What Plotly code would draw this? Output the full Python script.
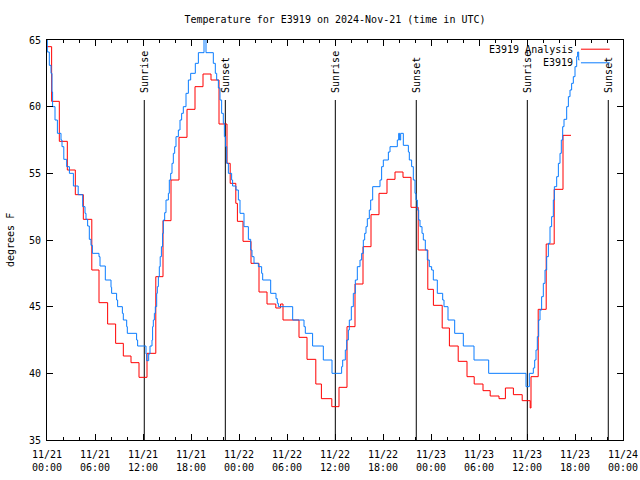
import pandas as pd
import plotly.graph_objects as go

BASE = pd.Timestamp("2024-11-21 00:00")

# E3919 Analysis (red) : step start hour (from 11/21 00:00 UTC), temperature F
analysis_hours = [0.0, 0.58, 1.54, 2.54, 3.54, 4.54, 5.6, 6.5, 7.58, 8.58, 9.54, 10.5, 11.5, 12.5,
                  13.6, 14.5, 15.5, 16.5, 17.5, 18.5, 19.5, 20.5, 21.5, 22.5, 22.9, 23.6, 23.8,
                  24.5, 25.5, 26.5, 27.5, 28.6, 29.2, 29.5, 31.5, 32.5, 33.6, 34.3, 35.6, 36.5,
                  37.5, 38.5, 39.5, 40.5, 41.5, 42.5, 43.5, 44.5, 45.5, 46.4, 47.6, 48.3, 49.4,
                  50.3, 51.4, 52.5, 53.4, 54.5, 55.4, 56.5, 57.3, 58.3, 59.4, 60.4, 60.5, 61.4,
                  62.4, 63.4, 64.5, 65.5]
analysis_temps = [64.5, 60.4, 57.4, 55.25, 53.4, 51.55, 47.75, 45.3, 43.7, 42.25, 41.3, 40.8, 39.7, 41.5,
                  47.25, 51.45, 54.5, 57.7, 59.8, 61.5, 62.45, 62.0, 58.7, 55.75, 54.25, 52.75, 51.4,
                  49.9, 48.25, 46.1, 45.2, 44.9, 45.2, 44.0, 42.7, 41.05, 39.2, 38.1, 37.5, 38.95,
                  43.5, 46.7, 49.5, 51.9, 53.5, 54.55, 55.1, 54.7, 52.45, 49.25, 46.3, 45.1, 43.4,
                  42.05, 40.9, 39.75, 39.2, 38.7, 38.3, 38.1, 38.9, 38.4, 37.95, 37.4, 39.75, 44.8,
                  49.7, 53.8, 57.85, 57.85]

# E3919 observations (blue)
obs_hours = [0.0, 0.04, 0.29, 0.5, 0.625, 0.7, 1.0, 1.3, 1.75, 1.875, 2.1, 2.46, 2.8, 3.3, 3.9,
             4.46, 4.75, 4.875, 5.08, 5.29, 5.5, 5.67, 6.5, 6.625, 7.29, 8.0, 8.08, 8.7, 8.83,
             9.42, 9.54, 9.96, 10.04, 11.2, 11.33, 12.375, 12.46, 12.71, 12.875, 13.125, 13.2,
             13.29, 13.42, 13.54, 13.71, 13.79, 13.92, 14.04, 14.15, 14.3, 14.45, 14.54, 14.71,
             14.875, 15.17, 15.29, 15.46, 15.625, 15.79, 15.96, 16.125, 16.42, 16.625, 16.83,
             17.04, 17.375, 17.67, 17.96, 18.54, 18.92, 19.625, 19.875, 20.79, 21.04, 21.21,
             21.42, 21.625, 21.83, 22.04, 22.17, 22.33, 22.46, 22.67, 23.08, 23.2, 23.625,
             23.92, 24.125, 24.625, 25.17, 25.46, 25.625, 25.875, 26.42, 26.83, 26.96, 27.96,
             28.625, 28.79, 28.92, 30.71, 32.125, 32.29, 33.2, 34.54, 35.625, 36.83, 36.96,
             37.29, 37.46, 37.67, 37.79, 38.04, 38.29, 38.54, 38.79, 39.125, 39.33, 39.54,
             39.71, 39.875, 40.04, 40.29, 40.46, 40.71, 41.625, 41.83, 42.04, 42.67, 42.875,
             43.79, 43.96, 44.08, 44.21, 44.54, 45.17, 45.29, 45.58, 45.79, 46.0, 46.125,
             46.29, 46.46, 46.625, 46.875, 47.04, 47.29, 47.54, 47.79, 48.08, 48.29, 48.79,
             49.46, 49.625, 50.125, 50.96, 52.04, 53.375, 55.21, 59.875, 60.29, 60.79, 60.96,
             61.125, 61.29, 61.46, 61.625, 61.83, 62.04, 62.25, 62.46, 62.67, 62.875, 63.08,
             63.29, 63.42, 63.71, 63.92, 64.125, 64.29, 64.46, 64.625, 64.96, 65.17, 65.375,
             65.58, 65.79, 66.0, 66.21, 66.33, 66.46, 66.55]
obs_temps = [65.2, 64.1, 63.1, 62.5, 61.1, 60.0, 59.0, 58.0, 57.5, 57.0, 56.05, 55.5, 55.0, 54.05, 53.4,
             52.5, 52.0, 51.55, 51.05, 50.05, 49.6, 49.0, 48.75, 48.05, 47.0, 46.45, 46.0, 45.5, 45.0,
             44.5, 44.0, 43.5, 43.0, 42.5, 42.05, 41.45, 40.95, 41.45, 42.05, 42.5, 43.5,
             44.0, 44.5, 45.0, 46.0, 46.5, 47.25, 48.0, 48.75, 49.5, 50.5, 51.5, 52.05,
             53.0, 53.5, 54.5, 55.0, 55.75, 56.5, 57.0, 57.75, 58.25, 59.0, 59.5,
             60.0, 61.0, 62.0, 62.5, 63.25, 64.05, 65.5, 64.05, 63.25, 62.5, 62.0,
             61.4, 60.5, 59.5, 58.75, 57.75, 57.0, 55.75, 55.0, 54.5, 54.05, 53.75,
             53.0, 52.0, 51.0, 50.05, 49.25, 48.75, 48.25, 48.0, 47.5, 47.0, 46.0,
             45.6, 45.25, 45.0, 44.0, 43.5, 43.0, 42.05, 41.0, 40.0, 40.5, 41.0,
             41.75, 42.5, 43.25, 44.0, 45.0, 46.0, 47.0, 48.0, 48.5, 49.0, 50.0,
             50.5, 51.0, 51.6, 52.25, 53.0, 54.0, 54.5, 55.5, 56.0, 56.6, 57.0,
             57.5, 58.0, 57.5, 58.0, 57.1, 56.6, 56.0, 55.5, 54.5, 53.5, 53.0,
             52.25, 51.5, 51.0, 50.5, 50.0, 49.25, 48.5, 48.0, 47.75, 47.0, 46.0,
             45.5, 45.0, 44.0, 43.0, 42.05, 41.0, 40.0, 39.0, 40.0, 40.4, 41.0,
             41.75, 42.75, 44.0, 44.75, 45.75, 46.75, 47.75, 48.75, 49.75, 51.0, 51.75,
             53.0, 54.0, 54.75, 55.75, 56.5, 57.5, 58.5, 59.05, 60.0, 60.75, 61.25,
             61.75, 62.25, 63.0, 63.75, 64.1, 63.5, 63.5]

sun_event_hours = [12.16, 22.29, 36.04, 46.16, 60.04, 70.16]
sun_event_labels = ["Sunrise", "Sunset", "Sunrise", "Sunset", "Sunrise", "Sunset"]
sun_line_top = 60.5

y_ticks = [35, 40, 45, 50, 55, 60, 65]
x_tick_hours = list(range(0, 73, 6))

FONT = "DejaVu Sans Mono"
RED = "#ff0000"
BLUE = "#0a7cff"

FIG_W, FIG_H = 640, 480


def to_time(hours):
    return [BASE + pd.Timedelta(hours=h) for h in hours]


fig = go.Figure()

# sunrise / sunset lines
sx, sy = [], []
for t in to_time(sun_event_hours):
    sx += [t, t, None]
    sy += [35, sun_line_top, None]
fig.add_trace(go.Scatter(x=sx, y=sy, mode="lines", line=dict(color="black", width=1),
                         hoverinfo="skip", showlegend=False))

fig.add_trace(go.Scatter(x=to_time(analysis_hours), y=analysis_temps, mode="lines",
                         line=dict(color=RED, width=1, shape="hv"), name="E3919 Analysis",
                         showlegend=False))
fig.add_trace(go.Scatter(x=to_time(obs_hours), y=obs_temps, mode="lines",
                         line=dict(color=BLUE, width=1, shape="hv"), name="E3919",
                         showlegend=False))

for t, lab in zip(to_time(sun_event_hours), sun_event_labels):
    fig.add_annotation(x=t, y=sun_line_top + 0.4, text=lab, textangle=-90, showarrow=False,
                       xanchor="center", yanchor="bottom", font=dict(family=FONT, size=10, color="black"))

# legend (gnuplot style: text then sample)
for i, (name, col) in enumerate([("E3919 Analysis", RED), ("E3919", BLUE)]):
    ypos = 0.977 - i * 0.034
    fig.add_annotation(x=0.917, y=ypos, xref="paper", yref="paper", text=name, showarrow=False,
                       xanchor="right", yanchor="middle", font=dict(family=FONT, size=10, color="black"))
    fig.add_shape(type="line", xref="paper", yref="paper", x0=0.927, x1=0.977, y0=ypos, y1=ypos,
                  line=dict(color=col, width=1))

# y axis title
fig.add_annotation(x=-37 / 576, y=0.5, xref="paper", yref="paper", text="degrees F", textangle=-90,
                   showarrow=False, xanchor="center", yanchor="middle",
                   font=dict(family=FONT, size=10, color="black"))

tickvals = to_time(x_tick_hours)
ticktext = [t.strftime("%m/%d") + "<br>" + t.strftime("%H:%M") for t in tickvals]

fig.update_layout(
    width=FIG_W, height=FIG_H,
    margin=dict(l=47, r=17, t=40, b=40, autoexpand=False),
    paper_bgcolor="white", plot_bgcolor="white",
    font=dict(family=FONT, size=10, color="black"),
    title=dict(text="Temperature for E3919 on 2024-Nov-21 (time in UTC)", x=0.5, xref="paper",
               xanchor="center", y=1 - 19 / FIG_H, yanchor="middle",
               font=dict(family=FONT, size=10, color="black")),
    showlegend=False,
)
fig.update_xaxes(
    type="date", range=[BASE, BASE + pd.Timedelta(hours=72)],
    tickvals=tickvals, ticktext=ticktext,
    ticks="inside", ticklen=6, tickcolor="black", tickwidth=1,
    showline=True, linecolor="black", linewidth=1, mirror="ticks",
    showgrid=False, zeroline=False, automargin=False, ticklabelstandoff=5,
    minor=dict(dtick=2 * 3600 * 1000, ticks="inside", ticklen=3, tickcolor="black", showgrid=False),
    tickfont=dict(family=FONT, size=10),
)
fig.update_yaxes(
    range=[35, 65], tickvals=y_ticks,
    ticks="inside", ticklen=6, tickcolor="black", tickwidth=1,
    showline=True, linecolor="black", linewidth=1, mirror="ticks",
    showgrid=False, zeroline=False, automargin=False, ticklabelstandoff=3,
    tickfont=dict(family=FONT, size=10),
)

# remove the default 8px page margin so the 640x480 figure fills the window exactly
fig.write_html("out.html", config={"displayModeBar": False, "staticPlot": True},
               post_script="document.body.style.margin='0px';document.body.style.overflow='hidden';")
